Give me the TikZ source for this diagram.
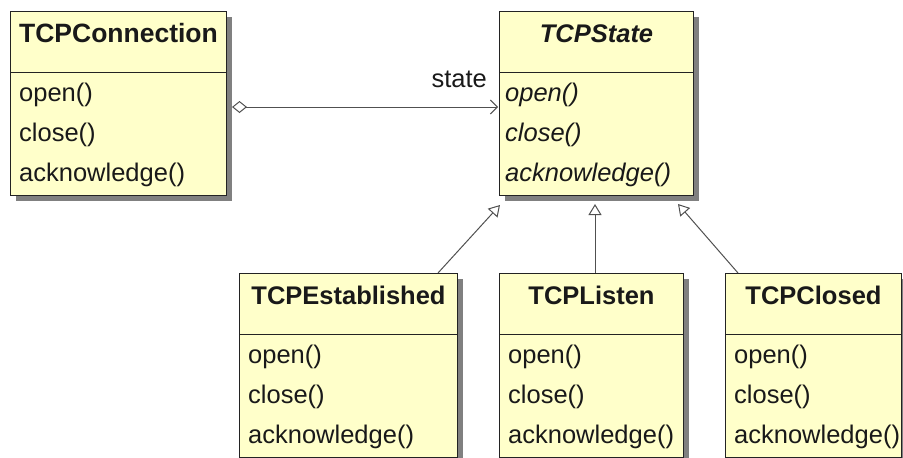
\documentclass[tikz,border=0pt]{standalone}
\usepackage{fontspec}
\setmainfont{Liberation Sans}
\usetikzlibrary{calc}
\usetikzlibrary{shadows}
\usetikzlibrary{arrows.meta}

\definecolor{classfill}{RGB}{255,255,202}
\definecolor{classline}{RGB}{35,35,35}
\definecolor{linkline}{RGB}{80,80,80}

\tikzset{
  classbox/.style={rectangle, draw=classline, fill=classfill, line width=1pt,
    inner sep=0pt, minimum height=184pt, anchor=north west,
    drop shadow={shadow xshift=5pt, shadow yshift=-5pt, fill=black!50, opacity=1}},
  classname/.style={font=\fontsize{25.5}{30}\selectfont\bfseries, text=black!90, anchor=base, inner sep=0pt},
  classop/.style={font=\fontsize{25.5}{30}\selectfont, text=black!90, anchor=base west, inner sep=0pt},
  compart/.style={draw=classline, line width=1pt},
  assoc/.style={draw=linkline, line width=1pt,
    {Diamond[open, length=15pt, width=12pt]}-{Straight Barb[length=7pt, width=14pt]}},
  inherit/.style={draw=linkline, line width=1pt,
    -{Triangle[open, length=11pt, width=13pt]}},
}

\begin{document}
\begin{tikzpicture}[x=1pt, y=-1pt]
  \useasboundingbox (0,0) rectangle (903,458);

  % the context and the abstract state
  \node [classbox, minimum width=216pt] (conn) at (10,11) {};
  \node [classbox, minimum width=194pt] (state) at (499,11) {};

  % the three concrete states
  \node [classbox, minimum width=218pt] (est) at (239,273) {};
  \node [classbox, minimum width=184pt] (listen) at (499,273) {};
  \node [classbox, minimum width=176pt] (closed) at (725,273) {};

  % compartments
  \draw [compart] ($ (conn.north west)+(0,61) $) -- ($ (conn.north east)+(0,61) $);
  \draw [compart] ($ (state.north west)+(0,61) $) -- ($ (state.north east)+(0,61) $);
  \draw [compart] ($ (est.north west)+(0,61) $) -- ($ (est.north east)+(0,61) $);
  \draw [compart] ($ (listen.north west)+(0,61) $) -- ($ (listen.north east)+(0,61) $);
  \draw [compart] ($ (closed.north west)+(0,61) $) -- ($ (closed.north east)+(0,61) $);

  % class names
  \node [classname, font=\fontsize{26.5}{30}\selectfont\bfseries] (conn-name) at ($ (conn.north)+(0,31) $) {TCPConnection};
  \node [classname, font=\fontsize{25.5}{30}\selectfont\bfseries\itshape] (state-name) at ($ (state.north)+(0,31) $) {TCPState};
  \node [classname] (est-name) at ($ (est.north)+(0,31) $) {TCPEstablished};
  \node [classname] (listen-name) at ($ (listen.north)+(0,31) $) {TCPListen};
  \node [classname] (closed-name) at ($ (closed.north)+(0,31) $) {TCPClosed};

  % operations
  \foreach \cls in {conn,est,listen,closed} {
    \node [classop] (\cls-open) at ($ (\cls.north west)+(9,90) $) {open()};
    \node [classop] (\cls-close) at ($ (\cls.north west)+(9,130) $) {close()};
    \node [classop] (\cls-ack) at ($ (\cls.north west)+(9,170) $) {acknowledge()};
  }
  \node [classop, font=\fontsize{25.5}{30}\selectfont\itshape] (state-open) at ($ (state.north west)+(6,90) $) {open()};
  \node [classop, font=\fontsize{25.5}{30}\selectfont\itshape] (state-close) at ($ (state.north west)+(6,130) $) {close()};
  \node [classop, font=\fontsize{25.5}{30}\selectfont\itshape] (state-ack) at ($ (state.north west)+(6,170) $) {acknowledge()};

  % aggregation from the context to its state
  \coordinate (aggr) at ($ (conn.north east)+(5,96) $);
  \coordinate (nav) at ($ (state.north west)+(-1,96) $);
  \draw [assoc] (aggr) -- (nav);
  \node [classop, anchor=base east] (role) at ($ (nav)+(-11,-20) $) {state};

  % generalisation
  \coordinate (est-top) at ($ (est.north west)+(199,0) $);
  \coordinate (listen-top) at ($ (listen.north west)+(96,0) $);
  \coordinate (closed-top) at ($ (closed.north west)+(13,0) $);
  \coordinate (tip1) at ($ (state.south west)+(1,9) $);
  \coordinate (tip2) at ($ (state.south west)+(96,8) $);
  \coordinate (tip3) at ($ (state.south west)+(179,8) $);
  \draw [inherit] (est-top) -- (tip1);
  \draw [inherit] (listen-top) -- (tip2);
  \draw [inherit] (closed-top) -- (tip3);
\end{tikzpicture}
\end{document}
